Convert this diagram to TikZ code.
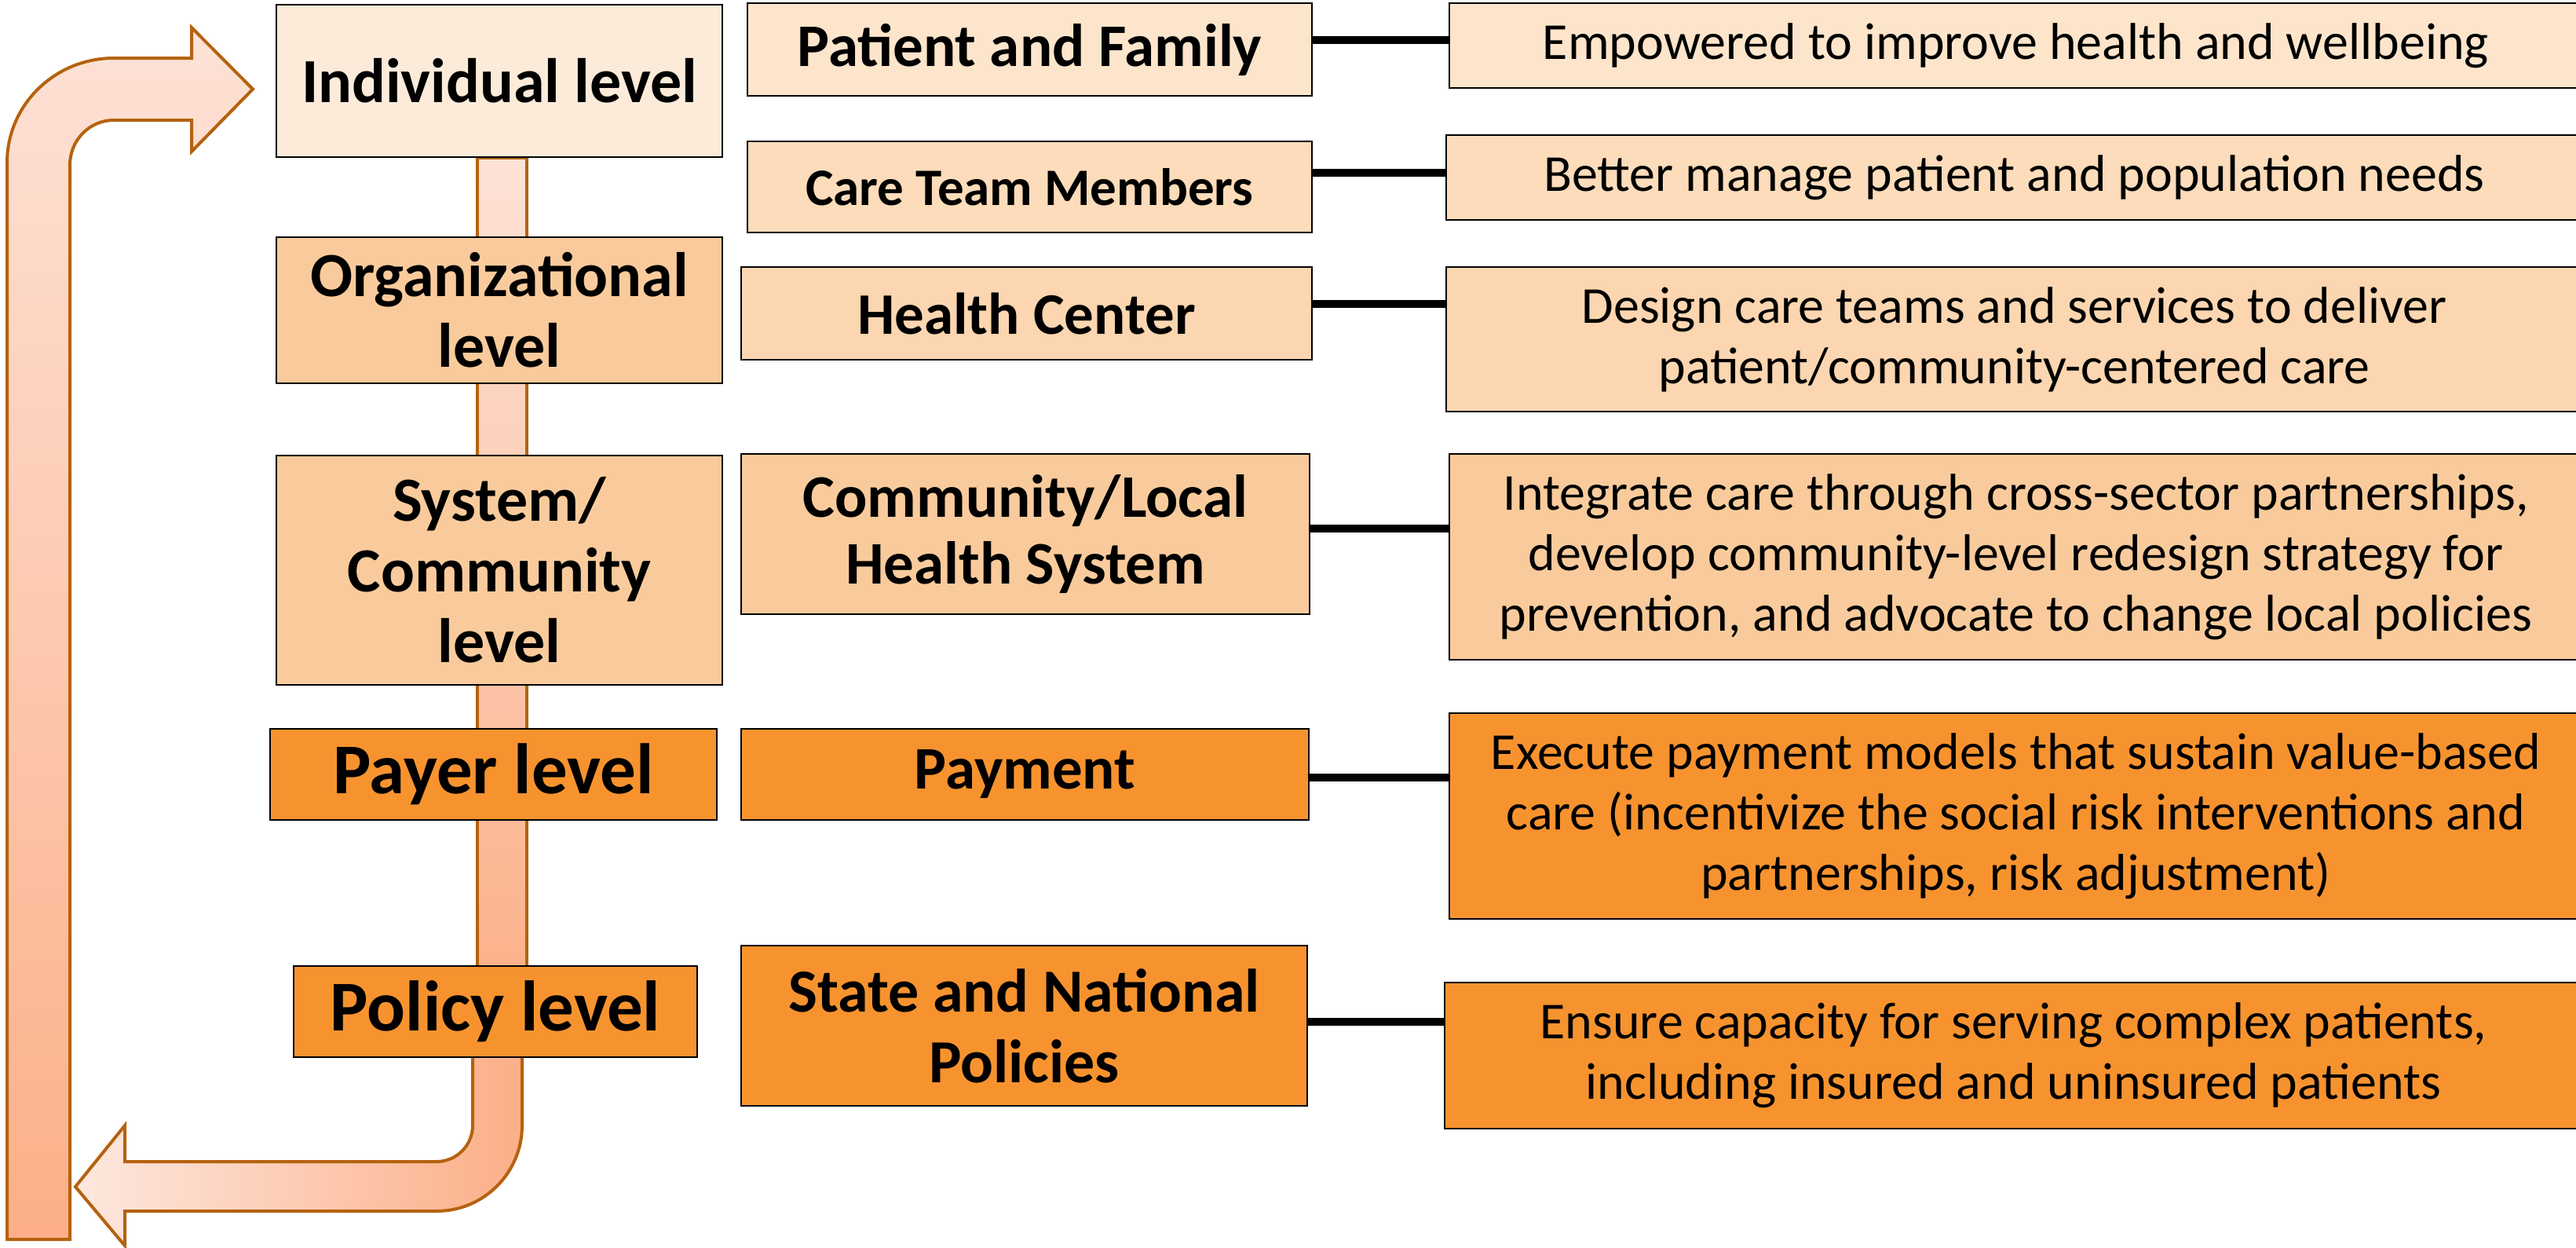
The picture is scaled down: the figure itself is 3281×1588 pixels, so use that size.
\documentclass[tikz,border=0pt]{standalone}
\usepackage{fontspec}
\setmainfont{Carlito}
\usepackage{tikz}
\usetikzlibrary{calc,positioning,backgrounds}

\definecolor{tintA}{HTML}{FDEBDA}
\definecolor{tintB}{HTML}{FDE5CC}
\definecolor{tintC}{HTML}{FCDCBA}
\definecolor{tintD}{HTML}{FBD6B0}
\definecolor{tintE}{HTML}{F9CB9C}
\definecolor{deep}{HTML}{F7932F}
\definecolor{rim}{HTML}{B5620F}
\definecolor{pinklo}{HTML}{FDE2D6}
\definecolor{pinkhi}{HTML}{FCAF88}

\tikzset{
	box/.style={draw, line width=2pt, align=center, inner sep=0pt, anchor=north west},
	lvl/.style={box, font=\bfseries\fontsize{80}{90}\selectfont},
	who/.style={box, font=\bfseries\fontsize{77}{85}\selectfont},
	aim/.style={box, font=\fontsize{66}{77}\selectfont},
	link/.style={line width=10pt},
	band/.style={draw=rim, line width=4pt}
}

\begin{document}
\begin{tikzpicture}[x=1pt,y=-1pt]
		\useasboundingbox (0,0) rectangle (3281,1588);
		% levels
		\node(l1) [lvl, fill=tintA, minimum width=568, minimum height=194] at (351,5) {Individual level};
		\node(l2) [lvl, fill=tintE, minimum width=568, minimum height=186] at (351,301) {Organizational\\level};
		\node(l3) [lvl, fill=tintE, minimum width=568, minimum height=292] at (351,579) {System/\\Community\\level};
		\node(l4) [lvl, fill=deep, minimum width=569, minimum height=116, font=\bfseries\fontsize{91}{98}\selectfont] at (343,927) {Payer level};
		\node(l5) [lvl, fill=deep, minimum width=514, minimum height=116, font=\bfseries\fontsize{91}{98}\selectfont] at (373,1229) {Policy level};
		% actors
		\node(m1) [who, fill=tintB, minimum width=719, minimum height=118] at (951,3) {Patient and Family};
		\node(m2) [who, fill=tintC, minimum width=719, minimum height=116, font=\bfseries\fontsize{67}{76}\selectfont] at (951,179) {Care Team Members};
		\node(m3) [who, fill=tintD, minimum width=727, minimum height=118, font=\bfseries\fontsize{75}{84}\selectfont] at (943,339) {Health Center};
		\node(m4) [who, fill=tintE, minimum width=724, minimum height=204] at (943,577) {Community/Local\\Health System};
		\node(m5) [who, fill=deep, minimum width=723, minimum height=116] at (943,927) {Payment};
		\node(m6) [who, fill=deep, minimum width=721, minimum height=204, font=\bfseries\fontsize{78}{90}\selectfont] at (943,1203) {State and National\\Policies};
		% aims
		\node(r1) [aim, fill=tintB, minimum width=1443, minimum height=108] at (1845,3) {Empowered to improve health and wellbeing};
		\node(r2) [aim, fill=tintC, minimum width=1447, minimum height=108] at (1841,171) {Better manage patient and population needs};
		\node(r3) [aim, fill=tintD, minimum width=1447, minimum height=184] at (1841,339) {Design care teams and services to deliver\\patient/community-centered care};
		\node(r4) [aim, fill=tintE, minimum width=1443, minimum height=262] at (1845,577) {Integrate care through cross-sector partnerships,\\develop community-level redesign strategy for\\prevention, and advocate to change local policies};
		\node(r5) [aim, fill=deep, minimum width=1443, minimum height=262] at (1845,907) {Execute payment models that sustain value-based\\care (incentivize the social risk interventions and\\partnerships, risk adjustment)};
		\node(r6) [aim, fill=deep, minimum width=1449, minimum height=186] at (1839,1250) {Ensure capacity for serving complex patients,\\including insured and uninsured patients};
		% links
		\draw[link] ([yshift=12pt]m1.east) -- ([yshift=12pt]m1.east -| r1.west);
		\draw[link] ([yshift=18pt]m2.east) -- ([yshift=18pt]m2.east -| r2.west);
		\draw[link] ([yshift=12pt]m3.east) -- ([yshift=12pt]m3.east -| r3.west);
		\draw[link] ([yshift=7pt]m4.east) -- ([yshift=7pt]m4.east -| r4.west);
		\draw[link] ([yshift=-4pt]m5.east) -- ([yshift=-4pt]m5.east -| r5.west);
		\draw[link] ([yshift=5pt]m6.east) -- ([yshift=5pt]m6.east -| r6.west);
		% arrows behind
		\begin{scope}[on background layer]
			\path[band, top color=pinklo, bottom color=pinkhi]
				([xshift=-28pt]l1.south) rectangle ([xshift=35pt]l1.south |- l5.center);
			\path[band, top color=pinklo, bottom color=pinkhi]
				(9,1578) -- (9,207) .. controls (9,133.5) and (69.9,74) .. (145,74) -- (244,74) -- (244,35)
				-- (322,113.5) -- (244,193) -- (244,153) -- (145,153) .. controls (114,153) and (89,178.5) .. (89,210)
				-- (89,1578) -- cycle;
			\path[band, left color=pinklo!80!white, right color=pinkhi]
				(602,1287) -- (602,1433) .. controls (602,1458.4) and (581.4,1479) .. (556,1479) -- (159,1479)
				-- (159,1433) -- (96,1511) -- (159,1586) -- (159,1542) -- (556,1542)
				.. controls (616.2,1542) and (665,1493.2) .. (665,1433) -- (665,1287) -- cycle;
		\end{scope}
	\end{tikzpicture}
\end{document}
